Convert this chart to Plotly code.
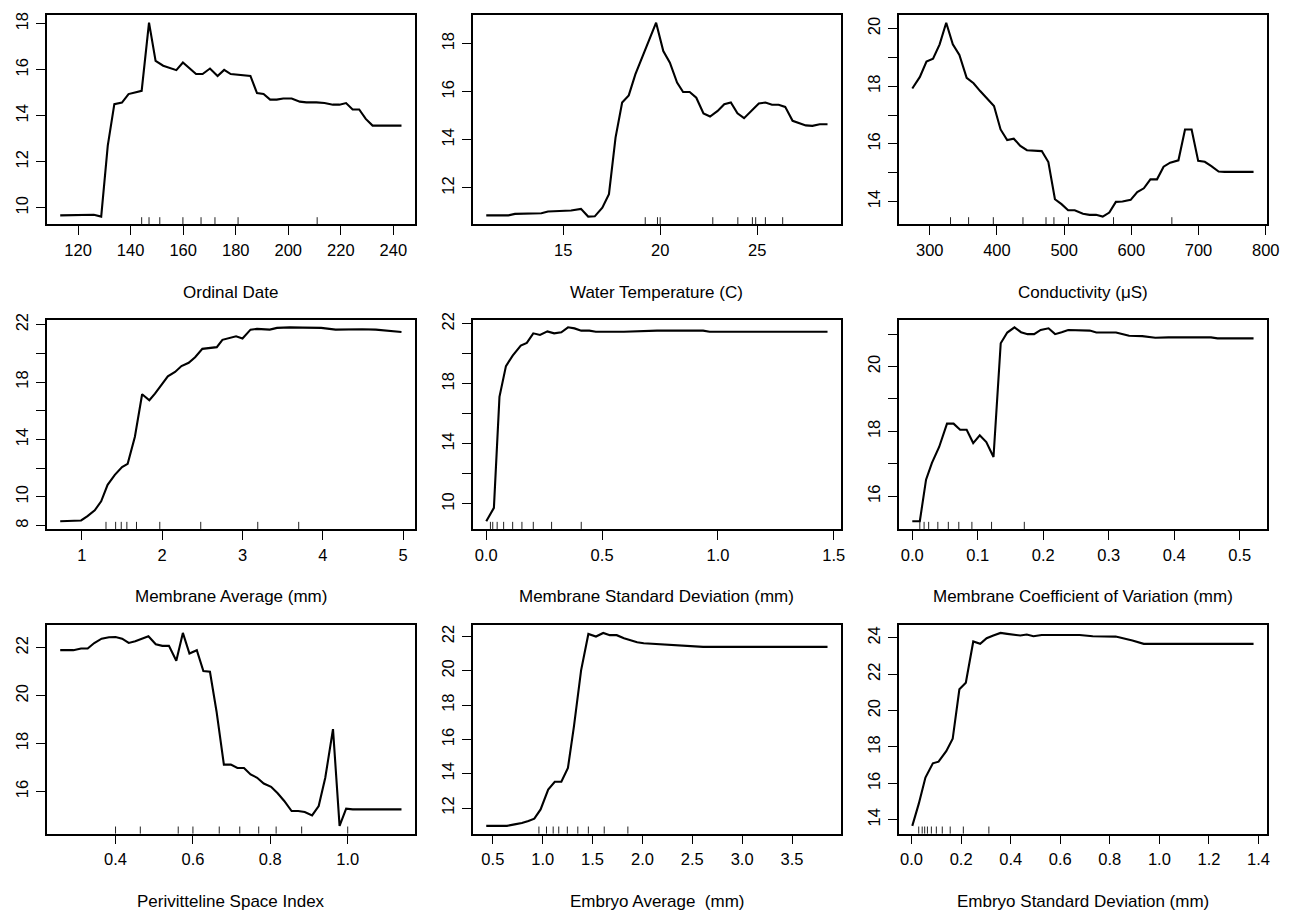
import plotly.graph_objects as go

# ---------------- data ----------------
date_x = [113.2, 126, 128.8, 131.3, 133.8, 136.7, 139.2, 144.2, 147, 149.5, 152.4, 157.4, 159.9, 164.9,
          167.4, 170.2, 173.1, 175.6, 178.1, 185.6, 188.1, 190.6, 193.1, 195.6, 198.1, 201.3, 204.4,
          206.9, 210.7, 213.8, 217, 219.5, 222, 224.5, 227, 229.5, 232.1, 243.1]
date_y = [9.67, 9.7, 9.62, 12.7, 14.5, 14.57, 14.94, 15.08, 18.04, 16.38, 16.17, 15.98, 16.31, 15.81,
          15.81, 16.05, 15.72, 15.99, 15.81, 15.73, 14.98, 14.94, 14.7, 14.7, 14.75, 14.75, 14.61,
          14.58, 14.58, 14.55, 14.48, 14.48, 14.55, 14.27, 14.27, 13.86, 13.57, 13.57]
date_rug = [144.2, 147, 151.1, 159.9, 166.8, 172.1, 180.9, 211]

temp_x = [11.04, 12.18, 12.52, 13.88, 14.22, 15.41, 15.92, 16.29, 16.63, 17.02, 17.36, 17.70, 18.04,
          18.38, 18.72, 19.14, 19.48, 19.79, 20.16, 20.5, 20.87, 21.18, 21.52, 21.86, 22.23, 22.57,
          22.96, 23.3, 23.64, 23.98, 24.32, 24.75, 25.08, 25.42, 25.76, 26.1, 26.44, 26.82, 27.16,
          27.5, 27.84, 28.22, 28.62]
temp_y = [10.86, 10.86, 10.92, 10.95, 11.02, 11.06, 11.13, 10.81, 10.82, 11.18, 11.74, 14.09, 15.55,
          15.85, 16.72, 17.56, 18.25, 18.87, 17.69, 17.21, 16.38, 15.99, 15.99, 15.75, 15.10, 14.97,
          15.2, 15.48, 15.55, 15.10, 14.9, 15.27, 15.51, 15.55, 15.46, 15.46, 15.37, 14.79, 14.69,
          14.6, 14.58, 14.65, 14.65]
temp_rug = [19.23, 19.86, 20.0, 22.71, 24.0, 24.75, 24.92, 25.42, 26.31]

cond_x = [274, 285.3, 295.1, 304.9, 314.7, 324.5, 334.3, 344.1, 354.9, 365.2, 375, 384.8, 395.6,
          405.4, 415.2, 425, 434.8, 444.6, 466.7, 476.5, 486.3, 496.1, 505.9, 515.7, 528, 537.7,
          547.5, 557.4, 567.2, 577, 586.8, 599, 608.8, 618.6, 628.4, 638.2, 648, 657.8, 670.1,
          679.9, 689.7, 699.5, 709.3, 719.1, 729.9, 738.7, 781.9]
cond_y = [17.92, 18.32, 18.85, 18.95, 19.45, 20.2, 19.45, 19.08, 18.29, 18.1, 17.83, 17.58, 17.31,
          16.5, 16.13, 16.18, 15.93, 15.78, 15.75, 15.37, 14.08, 13.91, 13.7, 13.7, 13.58, 13.54,
          13.54, 13.48, 13.62, 13.99, 14.0, 14.06, 14.33, 14.46, 14.77, 14.77, 15.21, 15.35, 15.43,
          16.5, 16.5, 15.41, 15.38, 15.23, 15.04, 15.03, 15.03]
cond_rug = [330.9, 357.8, 394.6, 438.7, 473, 484.8, 506.4, 573.5, 660.3]

mavg_x = [0.73, 0.99, 1.07, 1.16, 1.24, 1.32, 1.41, 1.5, 1.57, 1.66, 1.75, 1.84, 1.91, 1.99, 2.07,
          2.16, 2.24, 2.33, 2.41, 2.5, 2.59, 2.68, 2.75, 2.84, 2.92, 3.0, 3.1, 3.18, 3.26, 3.34,
          3.43, 3.59, 3.75, 3.9, 3.98, 4.16, 4.33, 4.49, 4.66, 4.8, 4.98]
mavg_y = [8.3, 8.35, 8.65, 9.06, 9.69, 10.84, 11.53, 12.07, 12.3, 14.19, 17.15, 16.73, 17.19, 17.77,
          18.4, 18.7, 19.11, 19.34, 19.73, 20.31, 20.36, 20.43, 20.94, 21.05, 21.19, 21.03, 21.65,
          21.7, 21.7, 21.65, 21.77, 21.81, 21.79, 21.81, 21.77, 21.65, 21.68, 21.68, 21.65, 21.6,
          21.49]
mavg_rug = [1.3, 1.42, 1.49, 1.56, 1.68, 1.97, 2.48, 3.19, 3.7]

msd_x = [0.0, 0.033, 0.057, 0.085, 0.114, 0.149, 0.175, 0.203, 0.232, 0.264, 0.293, 0.324, 0.353,
         0.381, 0.41, 0.445, 0.473, 0.594, 0.737, 0.822, 0.936, 0.964, 1.473]
msd_y = [8.85, 9.74, 17.13, 19.18, 19.88, 20.54, 20.72, 21.36, 21.25, 21.49, 21.36, 21.43, 21.76,
         21.69, 21.54, 21.54, 21.47, 21.47, 21.54, 21.54, 21.54, 21.47, 21.47]
msd_rug = [0.018, 0.028, 0.047, 0.075, 0.114, 0.154, 0.203, 0.282, 0.41]

mcv_x = [0.0, 0.0115, 0.021, 0.03, 0.041, 0.053, 0.063, 0.073, 0.083, 0.093, 0.103, 0.113, 0.124,
         0.135, 0.145, 0.156, 0.166, 0.176, 0.186, 0.196, 0.208, 0.218, 0.228, 0.238, 0.271,
         0.281, 0.311, 0.321, 0.331, 0.351, 0.371, 0.391, 0.411, 0.456, 0.466, 0.521]
mcv_y = [15.23, 15.23, 16.51, 17.03, 17.52, 18.24, 18.24, 18.05, 18.05, 17.64, 17.88, 17.67, 17.21,
         20.72, 21.05, 21.21, 21.06, 21.0, 21.0, 21.13, 21.18, 21.0, 21.06, 21.13, 21.11, 21.05,
         21.05, 21.0, 20.95, 20.94, 20.89, 20.9, 20.9, 20.9, 20.87, 20.87]
mcv_rug = [0.0115, 0.018, 0.025, 0.039, 0.055, 0.071, 0.091, 0.121, 0.171]

psi_x = [0.257, 0.291, 0.311, 0.328, 0.345, 0.364, 0.383, 0.4, 0.417, 0.434, 0.451, 0.468, 0.485,
         0.504, 0.521, 0.538, 0.557, 0.574, 0.591, 0.61, 0.627, 0.644, 0.661, 0.68, 0.698, 0.715,
         0.732, 0.749, 0.766, 0.783, 0.802, 0.819, 0.836, 0.855, 0.872, 0.889, 0.908, 0.925,
         0.942, 0.962, 0.979, 0.996, 1.013, 1.139]
psi_y = [21.9, 21.9, 21.97, 21.97, 22.2, 22.38, 22.44, 22.45, 22.38, 22.2, 22.27, 22.38, 22.48,
         22.15, 22.08, 22.08, 21.46, 22.62, 21.76, 21.9, 21.03, 21.0, 19.34, 17.12, 17.12, 16.98,
         16.98, 16.71, 16.57, 16.33, 16.19, 15.92, 15.6, 15.18, 15.18, 15.14, 15.0, 15.39, 16.57,
         18.6, 14.56, 15.28, 15.25, 15.25]
psi_rug = [0.4, 0.464, 0.562, 0.6, 0.668, 0.721, 0.77, 0.815, 0.881, 1.0]

eavg_x = [0.434, 0.642, 0.718, 0.791, 0.857, 0.916, 0.979, 1.055, 1.121, 1.187, 1.253, 1.313, 1.385,
          1.458, 1.534, 1.607, 1.673, 1.742, 1.815, 1.947, 2.013, 2.145, 2.211, 2.343, 2.476,
          2.608, 3.856]
eavg_y = [10.96, 10.96, 11.05, 11.13, 11.25, 11.38, 11.92, 13.08, 13.53, 13.53, 14.34, 16.75, 20.03,
          22.15, 22.0, 22.21, 22.08, 22.08, 21.9, 21.67, 21.61, 21.56, 21.52, 21.46, 21.44, 21.4,
          21.4]
eavg_rug = [0.962, 1.038, 1.105, 1.161, 1.247, 1.352, 1.458, 1.617, 1.854]

esd_x = [0.003, 0.029, 0.056, 0.086, 0.109, 0.14, 0.166, 0.193, 0.219, 0.249, 0.277, 0.303, 0.33,
         0.359, 0.386, 0.439, 0.465, 0.492, 0.525, 0.678, 0.731, 0.824, 0.891, 0.937, 1.38]
esd_y = [13.66, 14.87, 16.32, 17.1, 17.19, 17.77, 18.45, 21.17, 21.53, 23.8, 23.67, 23.98, 24.13,
         24.27, 24.22, 24.13, 24.18, 24.09, 24.16, 24.16, 24.09, 24.07, 23.85, 23.67, 23.67]
esd_rug = [0.029, 0.043, 0.053, 0.064, 0.08, 0.1, 0.124, 0.156, 0.209, 0.312]

# axis titles
titles = ["Ordinal Date", "Water Temperature (C)", "Conductivity (\u03bcS)",
          "Membrane Average (mm)", "Membrane Standard Deviation (mm)",
          "Membrane Coefficient of Variation (mm)",
          "Perivitteline Space Index", "Embryo Average  (mm)", "Embryo Standard Deviation (mm)"]

# tick values / labels
x_ticks = [[120, 140, 160, 180, 200, 220, 240], [15, 20, 25], [300, 400, 500, 600, 700, 800],
           [1, 2, 3, 4, 5], [0.0, 0.5, 1.0, 1.5], [0.0, 0.1, 0.2, 0.3, 0.4, 0.5],
           [0.4, 0.6, 0.8, 1.0], [0.5, 1.0, 1.5, 2.0, 2.5, 3.0, 3.5],
           [0.0, 0.2, 0.4, 0.6, 0.8, 1.0, 1.2, 1.4]]
x_labels = [["120", "140", "160", "180", "200", "220", "240"], ["15", "20", "25"],
            ["300", "400", "500", "600", "700", "800"], ["1", "2", "3", "4", "5"],
            ["0.0", "0.5", "1.0", "1.5"], ["0.0", "0.1", "0.2", "0.3", "0.4", "0.5"],
            ["0.4", "0.6", "0.8", "1.0"], ["0.5", "1.0", "1.5", "2.0", "2.5", "3.0", "3.5"],
            ["0.0", "0.2", "0.4", "0.6", "0.8", "1.0", "1.2", "1.4"]]
y_ticks = [[10, 12, 14, 16, 18], [12, 14, 16, 18], [14, 15, 16, 17, 18, 19, 20],
           [8, 10, 12, 14, 16, 18, 20, 22], [10, 12, 14, 16, 18, 20, 22], [16, 17, 18, 19, 20, 21],
           [16, 18, 20, 22], [12, 14, 16, 18, 20, 22], [14, 16, 18, 20, 22, 24]]
y_labels = [["10", "12", "14", "16", "18"], ["12", "14", "16", "18"],
            ["14", "", "16", "", "18", "", "20"],
            ["8", "10", "", "14", "", "18", "", "22"], ["10", "", "14", "", "18", "", "22"],
            ["16", "", "18", "", "20", ""], ["16", "18", "20", "22"],
            ["12", "14", "16", "18", "20", "22"], ["14", "16", "18", "20", "22", "24"]]

series = [(date_x, date_y, date_rug), (temp_x, temp_y, temp_rug), (cond_x, cond_y, cond_rug),
          (mavg_x, mavg_y, mavg_rug), (msd_x, msd_y, msd_rug), (mcv_x, mcv_y, mcv_rug),
          (psi_x, psi_y, psi_rug), (eavg_x, eavg_y, eavg_rug), (esd_x, esd_y, esd_rug)]

# ---------------- layout geometry ----------------
W, H = 1302, 913
col_px = [(47, 419), (477, 849), (907, 1279)]
row_px = [(8, 219), (315, 526), (623, 833)]

FONT = "Liberation Sans, Arial, Helvetica, sans-serif"
fig = go.Figure()
shapes = []
annotations = []


def ext(vals):
    lo, hi = min(vals), max(vals)
    d = (hi - lo) * 0.04
    return [lo - d, hi + d]


layout_axes = {}
for i, (xs, ys, rug) in enumerate(series):
    r, c = divmod(i, 3)
    n = i + 1
    xa = "x" if n == 1 else f"x{n}"
    ya = "y" if n == 1 else f"y{n}"
    fig.add_trace(go.Scatter(x=xs, y=ys, mode="lines", xaxis=xa, yaxis=ya,
                             line=dict(color="black", width=2.1), showlegend=False,
                             hoverinfo="skip"))
    xd = [col_px[c][0] / W, col_px[c][1] / W]
    yd = [1 - row_px[r][1] / H, 1 - row_px[r][0] / H]
    common = dict(showline=True, mirror=True, linecolor="black", linewidth=1.7,
                  ticks="outside", ticklen=9, tickwidth=1.4, tickcolor="black",
                  showgrid=False, zeroline=False, fixedrange=True,
                  tickfont=dict(family=FONT, size=16.5, color="black"))
    layout_axes["xaxis" if n == 1 else f"xaxis{n}"] = dict(
        domain=xd, anchor=ya, range=ext(xs), tickmode="array",
        tickvals=x_ticks[i], ticktext=x_labels[i], ticklabelstandoff=1, **common)
    layout_axes["yaxis" if n == 1 else f"yaxis{n}"] = dict(
        domain=yd, anchor=xa, range=ext(ys), tickmode="array",
        tickvals=y_ticks[i], ticktext=y_labels[i], tickangle=-90, ticklabelstandoff=1,
        **common)
    for v in rug:
        shapes.append(dict(type="line", xref=xa, yref=f"{ya} domain", x0=v, x1=v, y0=0,
                           y1=0.034, line=dict(color="#222222", width=1)))
    annotations.append(dict(text=titles[i], xref=f"{xa} domain", yref=f"{ya} domain",
                            x=0.5, y=0, yshift=-68, showarrow=False, xanchor="center",
                            yanchor="middle",
                            font=dict(family=FONT, size=17, color="black")))

fig.update_layout(width=W, height=H, margin=dict(l=0, r=0, t=0, b=0),
                  paper_bgcolor="white", plot_bgcolor="white",
                  shapes=shapes, annotations=annotations, **layout_axes)

fig.write_html("out.html", config={"displayModeBar": False},
               post_script="document.body.style.margin='0';document.body.style.overflow='hidden';")
